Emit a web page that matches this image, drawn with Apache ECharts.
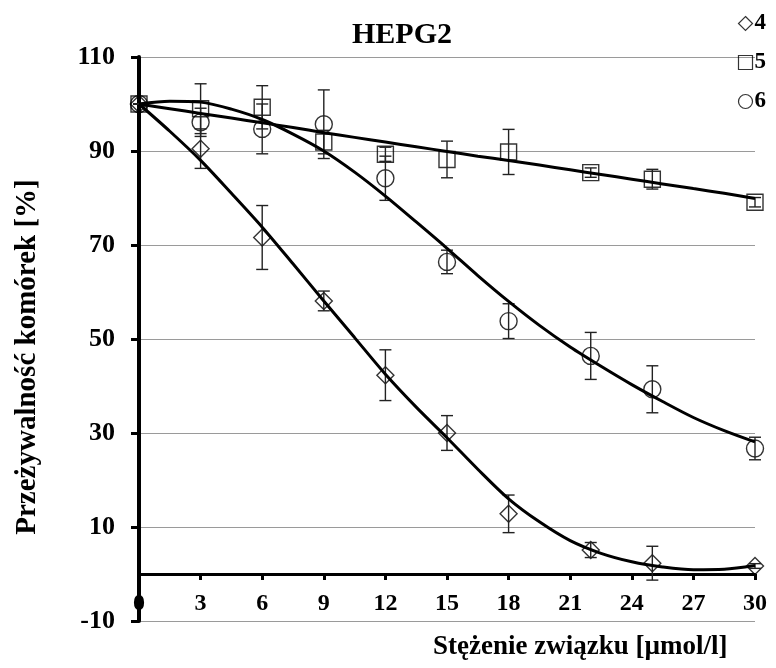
<!DOCTYPE html>
<html>
<head>
<meta charset="utf-8">
<script src="https://cdn.jsdelivr.net/npm/echarts@6/dist/echarts.min.js"></script>
<style>
html,body{margin:0;padding:0;background:#fff;}
#chart{width:776px;height:668px;}
</style>
</head>
<body>
<div id="chart"></div>
<script>
// ---- data ----
var concentrations = [0, 3, 6, 9, 12, 15, 18, 22, 25, 30];
var xTicks = [0, 3, 6, 9, 12, 15, 18, 21, 24, 27, 30];
var yTicks = [-10, 10, 30, 50, 70, 90, 110];

var mean4 = [100, 90.5, 71.6, 58.1, 42.3, 30.0, 12.8, 5.1, 2.3, 1.7];
var err4  = [0, 4.2, 6.8, 2.1, 5.4, 3.7, 4.0, 1.6, 3.6, 0.5];
var mean5 = [100, 99.0, 99.3, 91.9, 89.3, 88.2, 89.8, 85.4, 84.0, 79.1];
var err5  = [0, 5.3, 4.6, 2.5, 1.5, 3.9, 4.8, 1.0, 2.1, 1.0];
var mean6 = [100, 96.1, 94.7, 95.7, 84.2, 66.4, 53.8, 46.4, 39.3, 26.7];
var err6  = [0, 3.0, 5.3, 7.3, 4.7, 2.5, 3.7, 5.0, 5.0, 2.4];

// trend lines
var trendX  = [0, 1.5, 3, 4.5, 6, 7.5, 9, 10.5, 12, 13.5, 15, 16.5, 18, 19.5, 21, 22.5, 24, 25.5, 27, 28.5, 30];
var trend4  = [100, 94.2, 88.0, 81.0, 73.8, 66.0, 58.1, 50.3, 42.5, 35.5, 29.0, 22.3, 16.0, 11.1, 7.1, 4.4, 2.6, 1.5, 0.9, 1.0, 1.8];
var trend5  = [100, 99.0, 98.0, 97.0, 96.0, 95.0, 93.9, 92.9, 91.9, 90.9, 89.9, 88.9, 88.0, 87.0, 86.0, 85.0, 84.0, 83.0, 82.0, 81.0, 79.9];
var trend6  = [100, 100.6, 100.4, 98.9, 96.7, 93.6, 90.0, 85.5, 80.4, 74.9, 69.3, 63.5, 58.0, 52.9, 48.3, 44.2, 40.3, 36.7, 33.3, 30.5, 28.1];

var seriesNames = ['4', '5', '6'];
var symbols = ['diamond', 'rect', 'circle'];
var titleText = 'HEPG2';
var yTitle = 'Przeżywalność komórek [%]';
var xTitle = 'Stężenie związku [µmol/l]';

// ---- build ----
var FONT = "'Liberation Serif', 'Times New Roman', serif";
function pairs(xs, ys){ return xs.map(function(x,i){ return [x, ys[i]]; }); }

var means = [mean4, mean5, mean6];
var errs = [err4, err5, err6];
var trends = [trend4, trend5, trend6];

var series = [];
for (var k = 0; k < 3; k++) {
  series.push({
    name: seriesNames[k],
    type: 'scatter',
    symbol: symbols[k],
    symbolSize: symbols[k] === 'rect' ? 16 : 17,
    data: pairs(concentrations, means[k]),
    itemStyle: { color: 'rgba(0,0,0,0)', borderColor: '#000', borderWidth: 1.4 },
    z: 3
  });
}
for (var k2 = 0; k2 < 3; k2++) {
  (function(k){
    var d = concentrations.map(function(x,i){ return [x, means[k][i] - errs[k][i], means[k][i] + errs[k][i]]; });
    series.push({
      type: 'custom',
      data: d,
      z: 4,
      encode: { x: 0, y: [1, 2] },
      renderItem: function(params, api){
        var lo = api.coord([api.value(0), api.value(1)]);
        var hi = api.coord([api.value(0), api.value(2)]);
        var w = 6;
        var st = { stroke: '#222', lineWidth: 1.4, fill: null };
        return { type: 'group', children: [
          { type: 'line', shape: { x1: lo[0], y1: lo[1], x2: hi[0], y2: hi[1] }, style: st },
          { type: 'line', shape: { x1: lo[0]-w, y1: lo[1], x2: lo[0]+w, y2: lo[1] }, style: st },
          { type: 'line', shape: { x1: hi[0]-w, y1: hi[1], x2: hi[0]+w, y2: hi[1] }, style: st }
        ]};
      }
    });
  })(k2);
}
for (var k3 = 0; k3 < 3; k3++) {
  series.push({
    type: 'line',
    data: pairs(trendX, trends[k3]),
    smooth: 0.3,
    showSymbol: false,
    symbol: 'none',
    lineStyle: { color: '#000', width: 3 },
    z: 5,
    silent: true
  });
}

var chart = echarts.init(document.getElementById('chart'), null, { renderer: 'canvas' });
chart.setOption({
  animation: false,
  backgroundColor: '#fff',
  title: {
    text: titleText,
    left: 347, top: 15,
    textStyle: { fontFamily: FONT, fontWeight: 'bold', fontSize: 30, color: '#000' }
  },
  legend: {
    orient: 'vertical',
    right: 5, top: 7,
    itemGap: 16,
    itemWidth: 14, itemHeight: 14,
    data: seriesNames.map(function(n, i){ return { name: n, icon: symbols[i] }; }),
    itemStyle: { color: 'rgba(0,0,0,0)', borderColor: '#000', borderWidth: 1.2 },
    textStyle: { fontFamily: FONT, fontWeight: 'bold', fontSize: 23, color: '#000', padding: [0,0,0,-3] }
  },
  grid: { left: 139, right: 21, top: 57, bottom: 47, containLabel: false },
  xAxis: {
    type: 'value', min: xTicks[0], max: xTicks[xTicks.length-1], interval: xTicks[1] - xTicks[0],
    axisLine: { show: true, onZero: true, lineStyle: { color: '#000', width: 3 } },
    axisTick: { show: true, length: 6, lineStyle: { color: '#000', width: 3 } },
    axisLabel: { margin: -29, fontFamily: FONT, fontWeight: 'bold', fontSize: 24, color: '#000', showMinLabel: true, showMaxLabel: true },
    splitLine: { show: false }
  },
  yAxis: {
    type: 'value', min: yTicks[0], max: yTicks[yTicks.length-1], interval: yTicks[1] - yTicks[0],
    axisLine: { show: true, onZero: false, lineStyle: { color: '#000', width: 4 } },
    axisTick: { show: true, length: 8, lineStyle: { color: '#000', width: 3 } },
    axisLabel: { margin: 24, fontFamily: FONT, fontWeight: 'bold', fontSize: 26, color: '#000' },
    splitLine: { show: true, lineStyle: { color: '#9a9a9a', width: 1 } }
  },
  graphic: [
    { type: 'text', x: 28, y: 357, rotation: Math.PI/2,
      style: { text: yTitle, fontFamily: FONT, fontWeight: 'bold', fontSize: 29, fill: '#000', align: 'center', verticalAlign: 'middle' } },
    { type: 'text', x: 433, y: 647,
      style: { text: xTitle, fontFamily: FONT, fontWeight: 'bold', fontSize: 27, fill: '#000', align: 'left', verticalAlign: 'middle' } }
  ],
  series: series
});
</script>
</body>
</html>
